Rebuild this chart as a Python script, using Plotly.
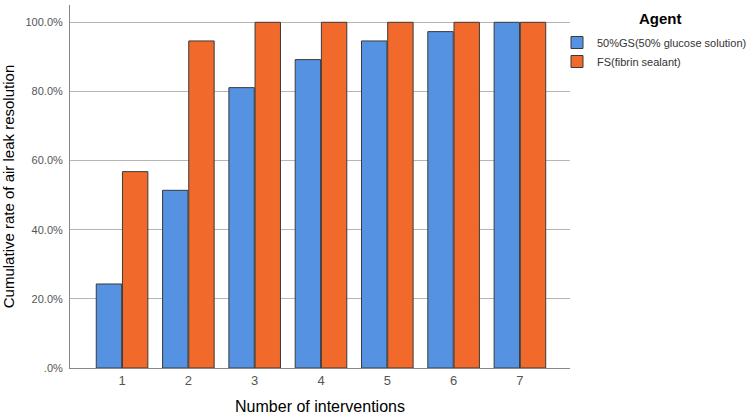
import plotly.graph_objects as go

categories = ["1", "2", "3", "4", "5", "6", "7"]
gs_values = [24.3, 51.4, 81.1, 89.2, 94.6, 97.3, 100.0]
fs_values = [56.8, 94.6, 100.0, 100.0, 100.0, 100.0, 100.0]
series_names = ["50%GS(50% glucose solution)", "FS(fibrin sealant)"]
y_tickvals = [0, 20, 40, 60, 80, 100]
y_ticktext = [".0%", "20.0%", "40.0%", "60.0%", "80.0%", "100.0%"]

FONT = "Liberation Sans, Arial, sans-serif"

fig = go.Figure()
fig.add_trace(go.Bar(x=categories, y=gs_values, name=series_names[0],
                     marker=dict(color="#5593E2", line=dict(color="#3a3a3a", width=1))))
fig.add_trace(go.Bar(x=categories, y=fs_values, name=series_names[1],
                     marker=dict(color="#F2692C", line=dict(color="#3a3a3a", width=1))))

fig.update_layout(
    width=750, height=420,
    margin=dict(l=70, r=180, t=5, b=52, autoexpand=False),
    paper_bgcolor="white", plot_bgcolor="white",
    barmode="group", bargap=0.21, bargroupgap=0.03,
    font=dict(family=FONT, color="#000"),
    showlegend=True,
    legend=dict(xref="container", yref="container", x=557/750, y=1 - 28/420,
                xanchor="left", yanchor="top", tracegroupgap=0,
                font=dict(family=FONT, size=11, color="#333"),
                bgcolor="rgba(0,0,0,0)"),
    annotations=[dict(text="<b>Agent</b>", xref="paper", yref="paper",
                      x=(660-70)/500, y=(368-18)/363, xanchor="center", yanchor="middle",
                      showarrow=False, font=dict(family=FONT, size=15, color="#000"))],
)
fig.update_xaxes(
    type="category", range=[-0.785, 6.755],
    showline=True, linecolor="#888", linewidth=1,
    ticks="", tickfont=dict(family=FONT, size=13, color="#555"),
    title=dict(text="Number of interventions", font=dict(family=FONT, size=16, color="#000"), standoff=14),
    showgrid=False,
)
fig.update_yaxes(
    range=[0, 105], tickvals=y_tickvals, ticktext=y_ticktext,
    showline=True, linecolor="#888", linewidth=1,
    showgrid=True, gridcolor="#b5b5b5", gridwidth=1,
    ticks="outside", ticklen=4, tickcolor="rgba(0,0,0,0)",
    tickfont=dict(family=FONT, size=11, color="#555"),
    title=dict(text="Cumulative rate of air leak resolution", font=dict(family=FONT, size=15, color="#000"), standoff=8),
    zeroline=False,
)
fig.write_html("out.html")
